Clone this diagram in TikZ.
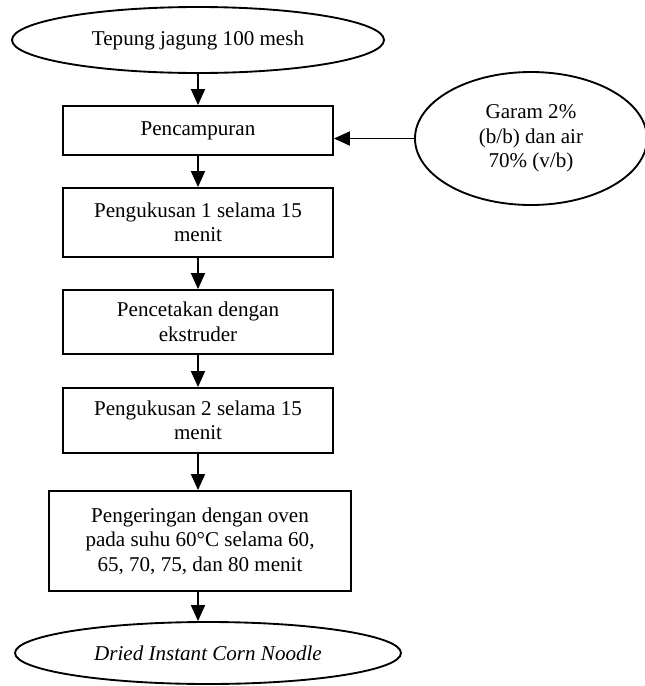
\documentclass[tikz,border=0pt]{standalone}
\usepackage{fontspec}
\setmainfont{Liberation Serif}
\usetikzlibrary{shapes.geometric,arrows.meta}
\begin{document}
\begin{tikzpicture}[x=0.75pt,y=-0.75pt,
  every node/.style={font=\fontsize{15.8pt}{18.4pt}\selectfont, align=center, inner sep=0pt},
  procbox/.style={draw, rectangle, line width=1.4pt},
  term/.style={draw, ellipse, line width=1.4pt},
  arr/.style={line width=1.4pt, -{Triangle[length=12pt,width=10.5pt]}}]
\useasboundingbox (0,0) rectangle (644,686);
\node[term, minimum width=279pt, minimum height=49.5pt] (top) at (198,40) {Tepung jagung 100 mesh};
\node[procbox, minimum width=202.5pt, minimum height=36.75pt] (b1) at (198,130.5) {Pencampuran};
\node[term, minimum width=174pt, minimum height=99.75pt] (salt) at (531,138.5) {Garam 2\%\\(b/b) dan air\\70\% (v/b)};
\node[procbox, minimum width=202.5pt, minimum height=51.75pt] (b2) at (198,222.5) {Pengukusan 1 selama 15\\menit};
\node[procbox, minimum width=202.5pt, minimum height=48pt] (b3) at (198,322) {Pencetakan dengan\\ekstruder};
\node[procbox, minimum width=202.5pt, minimum height=48.75pt] (b4) at (198,420.5) {Pengukusan 2 selama 15\\menit};
\node[procbox, minimum width=226.5pt, minimum height=75pt] (b5) at (200,541) {Pengeringan dengan oven\\pada suhu 60°C selama 60,\\65, 70, 75, dan 80 menit};
\node[term, minimum width=289.5pt, minimum height=46.5pt] (bot) at (208,653) {\itshape Dried Instant Corn Noodle};
\draw[arr] (top.south) -- (b1.north);
\draw[arr] (salt.west) -- (b1.east |- salt.west);
\draw[arr] (b1.south) -- (b2.north);
\draw[arr] (b2.south) -- (b3.north);
\draw[arr] (b3.south) -- (b4.north);
\draw[arr] (b4.south) -- (b4.south |- b5.north);
\draw[arr] (b4.south |- b5.south) -- (b4.south |- bot.north);
\end{tikzpicture}
\end{document}
